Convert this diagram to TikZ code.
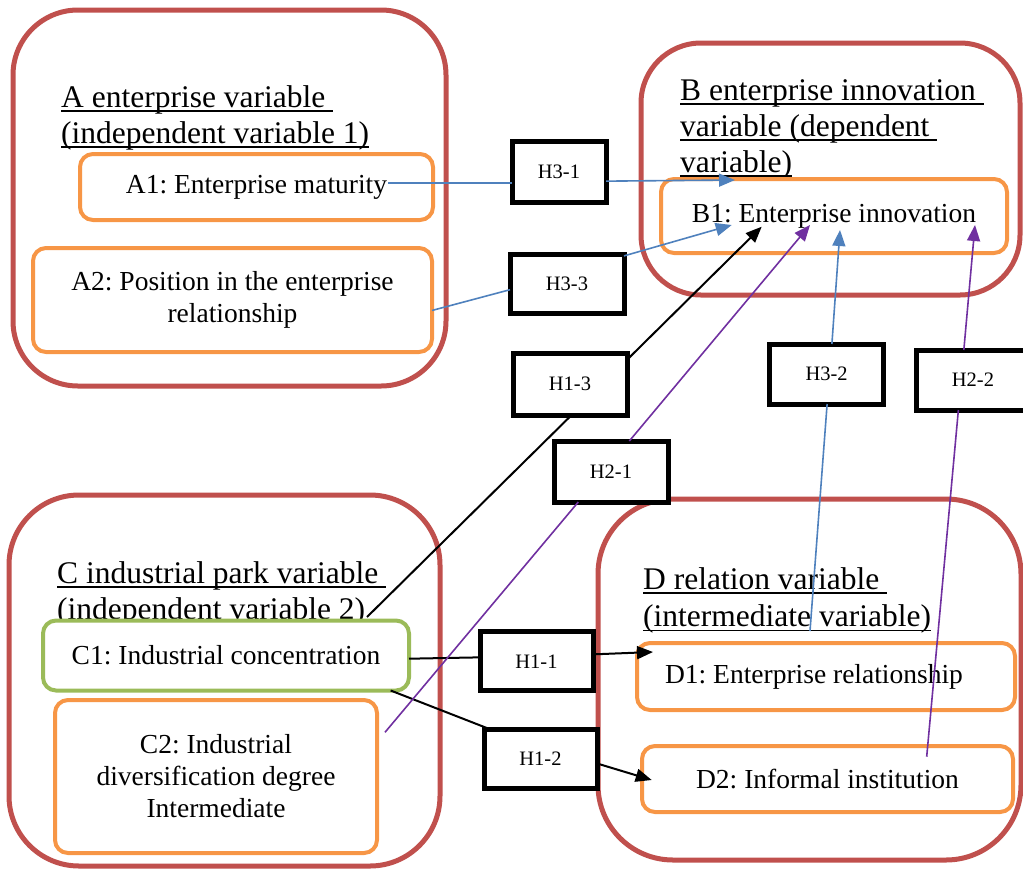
\documentclass[tikz,border=0pt]{standalone}
\usepackage{fontspec}
\setmainfont{Liberation Serif}
\usetikzlibrary{arrows.meta,calc}
\definecolor{grpred}{HTML}{C0504D}
\definecolor{itemorange}{HTML}{F79646}
\definecolor{itemgreen}{HTML}{9BBB59}
\definecolor{linkblue}{HTML}{4F81BD}
\definecolor{linkpurple}{HTML}{7030A0}
% underlined heading line (rule sits just below the baseline, spaces included)
\newcommand\titleline[1]{\setbox0\hbox{#1}\rlap{\rule[-4.8pt]{\wd0}{1.5pt}}\box0}
\frenchspacing
\begin{document}
\begin{tikzpicture}[x=1pt,y=-1pt,
  varbox/.style={draw=grpred, line width=5pt, rounded corners=#1, inner sep=0pt, outer sep=0pt},
  itembox/.style={draw=itemorange, line width=4pt, rounded corners=13pt, fill=white,
    align=center, font=\fontsize{27.5}{32}\selectfont, inner sep=0pt, outer sep=0pt},
  hypbox/.style={draw=black, line width=5pt, fill=white, font=\fontsize{20.5}{22}\selectfont,
    inner sep=0pt, outer sep=0pt},
  headline/.style={anchor=base west, inner sep=0pt, font=\fontsize{31.5}{36}\selectfont},
  feed/.style={line width=1.6pt},
  arrowlink/.style={line width=1.6pt, -{Triangle[length=16pt,width=13pt]}},
]
\useasboundingbox (0,0) rectangle (1023,868);

% variable groups
\node[varbox=65pt, minimum width=433pt, minimum height=376pt] (A) at (229.5,198) {};
\node[varbox=60pt, minimum width=379pt, minimum height=252pt] (B) at (830.5,169) {};
\node[varbox=70pt, minimum width=431pt, minimum height=371pt] (C) at (224.5,680.5) {};
\node[varbox=75pt, minimum width=423pt, minimum height=361pt] (D) at (809.5,679.5) {};

% group headings
\node[headline] (Ah1) at (61,107) {\titleline{A enterprise variable\ }};
\node[headline] (Ah2) at (61,143) {\titleline{(independent variable 1)}};
\node[headline] (Bh1) at (680,100) {\titleline{B enterprise innovation\ }};
\node[headline] (Bh2) at (680,136) {\titleline{variable (dependent\ }};
\node[headline] (Bh3) at (680,172) {\titleline{variable)}};
\node[headline] (Ch1) at (57,583) {\titleline{C industrial park variable\ }};
\node[headline] (Ch2) at (57,619) {\titleline{(independent variable 2)}};
\node[headline] (Dh1) at (643,589) {\titleline{D relation variable\ }};
\node[headline] (Dh2) at (643,626.5) {\titleline{(intermediate variable)}};

% items
\node[itembox, minimum width=353pt, minimum height=66pt] (A1) at (256.5,187) {A1: Enterprise maturity};
\node[itembox, minimum width=399pt, minimum height=104pt] (A2) at (232.5,300) {A2: Position in the enterprise\\relationship};
\node[itembox, minimum width=346pt, minimum height=74pt] (B1) at (834,216) {B1: Enterprise innovation};
\node[itembox, draw=itemgreen, minimum width=366pt, minimum height=70pt] (C1) at (226,655.5) {C1: Industrial concentration};
\node[itembox, minimum width=322pt, minimum height=153pt] (C2) at (216,776.5) {C2: Industrial\\diversification degree\\Intermediate};
\node[itembox, minimum width=378pt, minimum height=67pt] (D1) at (826,676.5) {D1: Enterprise relationship\kern24pt};
\node[itembox, minimum width=371pt, minimum height=66pt] (D2) at (827.5,779) {D2: Informal institution};

% hypothesis boxes
\node[hypbox, minimum width=94pt, minimum height=61pt] (H31) at (559,172) {H3-1};
\node[hypbox, minimum width=114pt, minimum height=59pt] (H33) at (567,283.7) {H3-3};
\node[hypbox, minimum width=114pt, minimum height=62pt] (H13) at (570,384) {H1-3};
\node[hypbox, minimum width=114pt, minimum height=61pt] (H21) at (611,471.5) {H2-1};
\node[hypbox, minimum width=114pt, minimum height=60pt] (H32) at (826.6,374) {H3-2};
\node[hypbox, minimum width=114pt, minimum height=60pt] (H22) at (973,380) {H2-2};
\node[hypbox, minimum width=113pt, minimum height=59pt] (H11) at (536.5,661.3) {H1-1};
\node[hypbox, minimum width=113pt, minimum height=59pt] (H12) at (540.5,758.5) {H1-2};

% free ends of the connectors
\coordinate (a1s) at (388,183);
\coordinate (cs)  at (367,617);
\coordinate (c2s) at (385,732.3);
\coordinate (ds)  at (810,631);
\coordinate (d2s) at (926.7,756.7);
\coordinate (b1a) at (735,180);
\coordinate (b1b) at (731.7,225);
\coordinate (b1c) at (761.7,226.7);
\coordinate (b1e) at (810,225);
\coordinate (b1d) at (840,230);
\coordinate (b1f) at (975,225);
\coordinate (d1t) at (653,652);
\coordinate (d2t) at (651.7,780);

% H3: blue paths into B1
\draw[feed, linkblue] (a1s) -- (a1s -| H31.west);
\draw[arrowlink, linkblue] (H31.-11.7) -- (b1a);
\draw[feed, linkblue] (A2.-3.7) -- (H33.186.3);
\draw[arrowlink, linkblue] (H33.26.3) -- (b1b);
\draw[feed, linkblue] (ds) -- (H32.-89.2);
\draw[arrowlink, linkblue] (H32.80.7) -- (b1d);

% H1: black paths
\draw[feed, line width=2pt] (cs) -- (H13.-87.6);
\draw[arrowlink, line width=2pt] (H13.23) -- (b1c);
\draw[feed, line width=2pt] (C1.-1.4) -- (H11.176.2);
\draw[arrowlink, line width=2pt] (H11.7.4) -- (d1t);
\draw[feed, line width=2pt] (C1.-12.3) -- (H12.150.2);
\draw[arrowlink, line width=2pt] (H12.-5.5) -- (d2t);

% H2: purple paths
\draw[feed, linkpurple] (c2s) -- (H21.-137.3);
\draw[arrowlink, linkpurple] (H21.59.4) -- (b1e);
\draw[feed, linkpurple] (d2s) -- (H22.-116.3);
\draw[arrowlink, linkpurple] (H22.107.4) -- (b1f);
\end{tikzpicture}
\end{document}
